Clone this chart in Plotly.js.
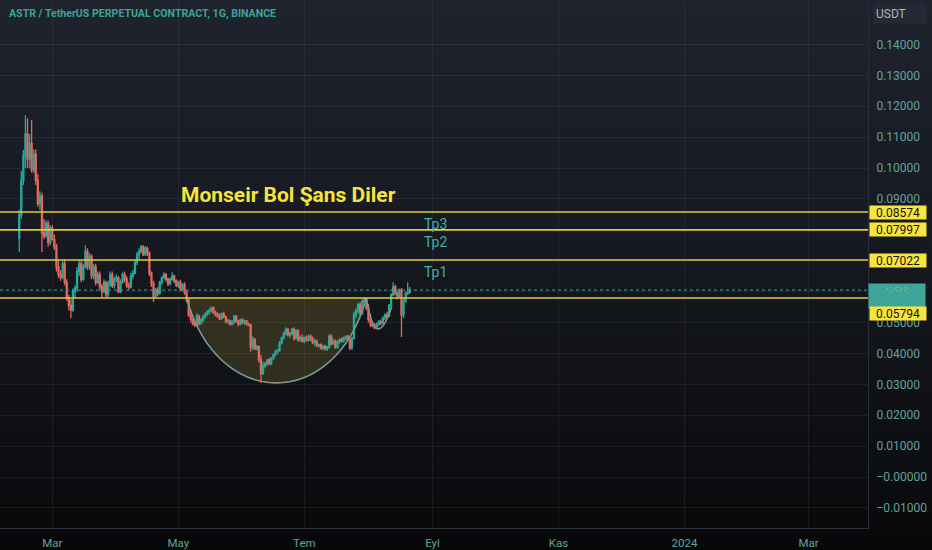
<!DOCTYPE html>
<html>
<head>
<meta charset="utf-8">
<script src="https://cdn.plot.ly/plotly-3.0.1.min.js"></script>
<style>
html,body{margin:0;padding:0;background:#0b0c0f;}
#chart{width:932px;height:550px;background:linear-gradient(180deg,#1f232e 0%,#171a22 40%,#0c0d10 88%,#070708 100%);}
</style>
</head>
<body>
<div id="chart"></div>
<script>
// ---- DATA (daily candles, ASTR/USDT perp, prices in units of 0.0001) ----
const startDate = '2023-02-13';
const PRICE_UNIT = 0.0001;
const openP = [
 773,848,960,1040,1110,1030,1080,995,1045,960,
 885,910,790,780,820,760,805,770,745,680,
 655,645,690,630,580,555,540,600,612,665,
 690,640,680,730,680,715,650,680,630,655,
 615,600,630,590,625,655,620,640,645,600,
 630,655,640,620,615,650,660,695,720,730,
 745,720,740,725,660,625,585,605,595,630,
 645,655,640,625,640,650,635,620,630,608,
 622,598,572,525,510,495,492,520,498,508,
 518,528,535,540,548,532,524,520,512,528,
 518,502,505,495,500,520,505,495,508,500,
 505,495,492,420,445,415,422,380,335,360,
 368,378,368,385,395,405,410,435,450,465,
 478,460,465,478,448,472,445,452,440,450,
 442,455,445,435,440,425,428,418,422,415,
 420,455,432,440,420,438,445,440,450,455,
 445,418,448,525,538,558,530,568,575,548,
 510,495,490,483,495,502,498,515,525,520,
 555,590,615,595,585,605,525,570,595,598
];
const highP = [
 865,990,1058,1171,1160,1110,1155,1060,1060,980,
 925,920,835,830,830,815,815,785,755,700,
 670,700,705,640,590,575,610,620,680,705,
 700,690,750,740,725,720,690,690,665,665,
 625,640,635,635,665,665,648,655,650,640,
 663,665,650,630,660,670,700,728,740,751,
 750,748,745,730,665,635,612,615,635,650,
 663,660,645,645,663,655,640,635,638,628,
 630,603,578,540,515,505,530,525,515,525,
 532,540,545,552,552,538,532,530,532,535,
 522,512,510,508,525,524,510,512,515,510,
 508,500,495,455,450,428,425,395,372,372,
 382,385,388,400,412,415,440,455,470,485,
 482,470,482,485,478,478,458,462,455,458,
 460,462,455,448,445,432,432,428,428,425,
 462,462,448,445,442,448,452,455,458,460,
 450,455,535,545,565,565,575,582,580,560,
 528,505,498,500,508,510,520,530,535,560,
 595,630,622,600,610,612,580,600,630,615
];
const lowP = [
 728,835,945,1000,1000,1000,985,985,945,875,
 865,728,770,775,745,750,765,735,665,645,
 635,640,620,570,540,515,535,580,600,650,
 630,635,675,670,670,640,640,620,625,605,
 580,595,580,580,615,612,610,630,595,595,
 625,630,612,605,610,640,655,685,705,725,
 715,715,715,650,615,566,580,585,590,622,
 640,632,618,620,635,628,615,612,600,602,
 590,565,518,500,490,485,488,490,492,500,
 512,520,525,532,528,520,515,508,510,515,
 498,496,490,490,496,500,488,490,495,492,
 490,488,405,412,410,410,370,304,330,352,
 360,362,362,378,390,398,405,430,445,458,
 455,450,458,442,445,438,438,435,432,438,
 438,440,430,425,420,418,412,410,410,408,
 415,425,428,415,415,430,435,436,442,440,
 410,412,445,515,530,520,525,560,540,500,
 485,485,478,478,488,492,495,508,515,518,
 550,585,588,575,580,453,515,565,588,592
];
const closeP = [
 848,960,1040,1110,1030,1080,995,1045,960,885,
 910,790,780,820,760,805,770,745,680,655,
 645,690,630,580,555,540,600,612,665,690,
 640,680,730,680,715,650,680,630,655,615,
 600,630,590,625,655,620,640,645,600,630,
 655,640,620,615,650,660,695,720,730,745,
 720,740,725,660,625,585,605,595,630,645,
 655,640,625,640,650,635,620,630,608,622,
 598,572,525,510,495,492,520,498,508,518,
 528,535,540,548,532,524,520,512,528,518,
 502,505,495,500,520,505,495,508,500,505,
 495,492,420,445,415,422,380,335,360,368,
 378,368,385,395,405,410,435,450,465,478,
 460,465,478,448,472,445,452,440,450,442,
 455,445,435,440,425,428,418,422,415,420,
 455,432,440,420,438,445,440,450,455,445,
 418,448,525,538,558,530,568,575,548,510,
 495,490,483,495,502,498,515,525,520,555,
 590,615,595,585,605,525,570,595,598,605
];

// Horizontal levels drawn on the chart
const levels = [0.08574, 0.07997, 0.07022, 0.05794];
const levelLabels = ['0.08574', '0.07997', '0.07022', '0.05794'];

// Axis ticks (0.06/0.07/0.08 labels are hidden behind the level labels in the reference)
const priceTicks = [-0.01,0,0.01,0.02,0.03,0.04,0.05,0.06,0.07,0.08,0.09,0.10,0.11,0.12,0.13,0.14];
const priceTickLabels = ['\u22120.01000','\u22120.00000','0.01000','0.02000','0.03000','0.04000','0.05000','','','','0.09000','0.10000','0.11000','0.12000','0.13000','0.14000'];
const dateTicks = ['2023-03-01','2023-05-01','2023-07-01','2023-09-01','2023-11-01','2024-01-01','2024-03-01'];
const dateTickLabels = ['Mar','May','Tem','Eyl','Kas','2024','Mar'];

// Drawings (in chart data coordinates)
const cupX = ['2023-05-05','2023-05-20','2023-07-16','2023-07-31'];   // cubic curve: start, ctrl1, ctrl2, end
const cupY = [0.05794, 0.0213, 0.0213, 0.05794];
const handleX = ['2023-07-31','2023-08-04_10:00','2023-08-12_07:00']; // quadratic: start, ctrl, end
const handleY = [0.05794, 0.0395, 0.0551];
const tpBoxX = ['2023-08-17', '2023-10-29_10:00'];
const tpBoxY = [0.0797, 0.0832];
const tpNames = ['Tp3','Tp2','Tp1'];
const tpY = [0.0819, 0.0761, 0.0663];
const tpTextX = '2023-08-26 22:00';
const headline = 'Monseir Bol \u015eans Diler';
const headlineX = '2023-05-01 06:00';
const headlineY = 0.0913;
const chartTitle = 'ASTR / TetherUS PERPETUAL CONTRACT, 1G, BINANCE';

// ---- build ----
const dates = openP.map((_, i) => {
  const d = new Date(startDate + 'T00:00:00Z');
  d.setUTCDate(d.getUTCDate() + i);
  return d.toISOString().slice(0, 10);
});
const sc = a => a.map(v => v * PRICE_UNIT);
const lastPrice = closeP[closeP.length - 1] * PRICE_UNIT;

const UP = '#26a99b', DOWN = '#e5675e', YEL = '#dccb3b', TEAL = '#3fa59b';
const tickColor = '#63a39b';

const trace = {
  type: 'candlestick',
  x: dates, open: sc(openP), high: sc(highP), low: sc(lowP), close: sc(closeP),
  increasing: {line: {color: UP, width: 1.3}, fillcolor: UP},
  decreasing: {line: {color: DOWN, width: 1.3}, fillcolor: DOWN},
  whiskerwidth: 0,
  hoverinfo: 'skip',
  showlegend: false
};

const cupPath = `M ${cupX[0]},${cupY[0]} C ${cupX[1]},${cupY[1]} ${cupX[2]},${cupY[2]} ${cupX[3]},${cupY[3]}`;
const handlePath = `M ${handleX[0]},${handleY[0]} Q ${handleX[1]},${handleY[1]} ${handleX[2]},${handleY[2]}`;

const shapes = [
  {type: 'path', path: cupPath + ' Z', xref: 'x', yref: 'y', fillcolor: 'rgba(235,210,60,0.15)', line: {width: 0}, layer: 'below'},
  {type: 'path', path: cupPath, xref: 'x', yref: 'y', line: {color: '#2a9f93', width: 1.6}},
  {type: 'path', path: cupPath, xref: 'x', yref: 'y', line: {color: '#e0827b', width: 0.8}},
  {type: 'path', path: handlePath, xref: 'x', yref: 'y', line: {color: '#2a9f93', width: 1.6}},
  {type: 'path', path: handlePath, xref: 'x', yref: 'y', line: {color: '#e0827b', width: 0.8}},
  {type: 'line', xref: 'paper', x0: 0, x1: 1, yref: 'y', y0: lastPrice, y1: lastPrice, line: {color: TEAL, width: 1, dash: 'dot'}},
  {type: 'rect', xref: 'x', yref: 'y', x0: tpBoxX[0], x1: tpBoxX[1], y0: tpBoxY[0], y1: tpBoxY[1],
   line: {color: '#e6d43c', width: 1.5}, fillcolor: 'rgba(225,185,95,0.16)'}
];
levels.forEach(v => shapes.push({type: 'line', xref: 'paper', x0: 0, x1: 1, yref: 'y', y0: v, y1: v, line: {color: YEL, width: 1.6}}));

const annotations = [
  {xref: 'paper', yref: 'paper', x: 0, y: 1, xanchor: 'left', yanchor: 'middle', xshift: 7, yshift: -13,
   text: '<b>' + chartTitle + '</b>', showarrow: false, font: {family: 'Roboto', size: 10.6, color: '#3aa596'}},
  {xref: 'x', yref: 'y', x: headlineX, y: headlineY, xanchor: 'left', yanchor: 'middle',
   text: '<b>' + headline + '</b>', showarrow: false, font: {family: 'Roboto', size: 21, color: '#f7e43a'}},
  {xref: 'paper', yref: 'paper', x: 1, y: 1, xanchor: 'left', yanchor: 'top', xshift: 5, yshift: -3,
   text: 'USDT', showarrow: false, align: 'left', width: 48, height: 15, borderpad: 2, bgcolor: '#252935',
   font: {family: 'Roboto', size: 12, color: '#b2b5be'}},
  {xref: 'paper', yref: 'y', x: 1, y: lastPrice, xanchor: 'left', yanchor: 'middle', xshift: 0, yshift: -6,
   text: '<span style="font-size:7px">\u00b7 : \u00b7: :\u00b7 :\u00b7</span>', valign: 'top', showarrow: false,
   width: 54, height: 22, borderpad: 1, bgcolor: TEAL, font: {family: 'Roboto', size: 8, color: '#ece6a0'}}
];
tpNames.forEach((t, i) => annotations.push({
  xref: 'x', yref: 'y', x: tpTextX, y: tpY[i], xanchor: 'left', yanchor: 'middle',
  text: t, showarrow: false, font: {family: 'Roboto', size: 14, color: '#3fb1a5'}
}));
levels.forEach((v, i) => annotations.push({
  xref: 'paper', yref: 'y', x: 1, y: v, xanchor: 'left', yanchor: 'middle', xshift: 1,
  yshift: i === 3 ? -16 : 0,
  text: levelLabels[i], showarrow: false, width: 54, height: 11, borderpad: 1, bgcolor: '#f7e43c',
  font: {family: 'Roboto', size: 12, color: '#131313'}
}));

const layout = {
  width: 932, height: 550,
  margin: {l: 0, r: 64, t: 0, b: 22},
  paper_bgcolor: 'rgba(0,0,0,0)', plot_bgcolor: 'rgba(0,0,0,0)',
  showlegend: false, hovermode: false, dragmode: false,
  xaxis: {
    type: 'date', range: ['2023-02-03 16:30', '2024-03-29 19:00'],
    rangeslider: {visible: false},
    tickvals: dateTicks, ticktext: dateTickLabels,
    tickfont: {family: 'Roboto', size: 11.5, color: tickColor},
    showgrid: true, gridcolor: 'rgba(255,255,255,0.06)', gridwidth: 1,
    showline: true, linecolor: '#2a2e39', linewidth: 1,
    ticks: '', ticklabelstandoff: 4, zeroline: false, fixedrange: true
  },
  yaxis: {
    side: 'right', range: [-0.0165, 0.15437],
    tickvals: priceTicks, ticktext: priceTickLabels,
    tickfont: {family: 'Roboto', size: 12, color: tickColor},
    showgrid: true, gridcolor: 'rgba(255,255,255,0.06)', gridwidth: 1,
    showline: true, linecolor: '#2a2e39', linewidth: 1,
    ticks: '', ticklabelstandoff: 5, zeroline: false, fixedrange: true
  },
  shapes: shapes,
  annotations: annotations
};

Plotly.newPlot('chart', [trace], layout, {displayModeBar: false, staticPlot: true});
</script>
</body>
</html>
